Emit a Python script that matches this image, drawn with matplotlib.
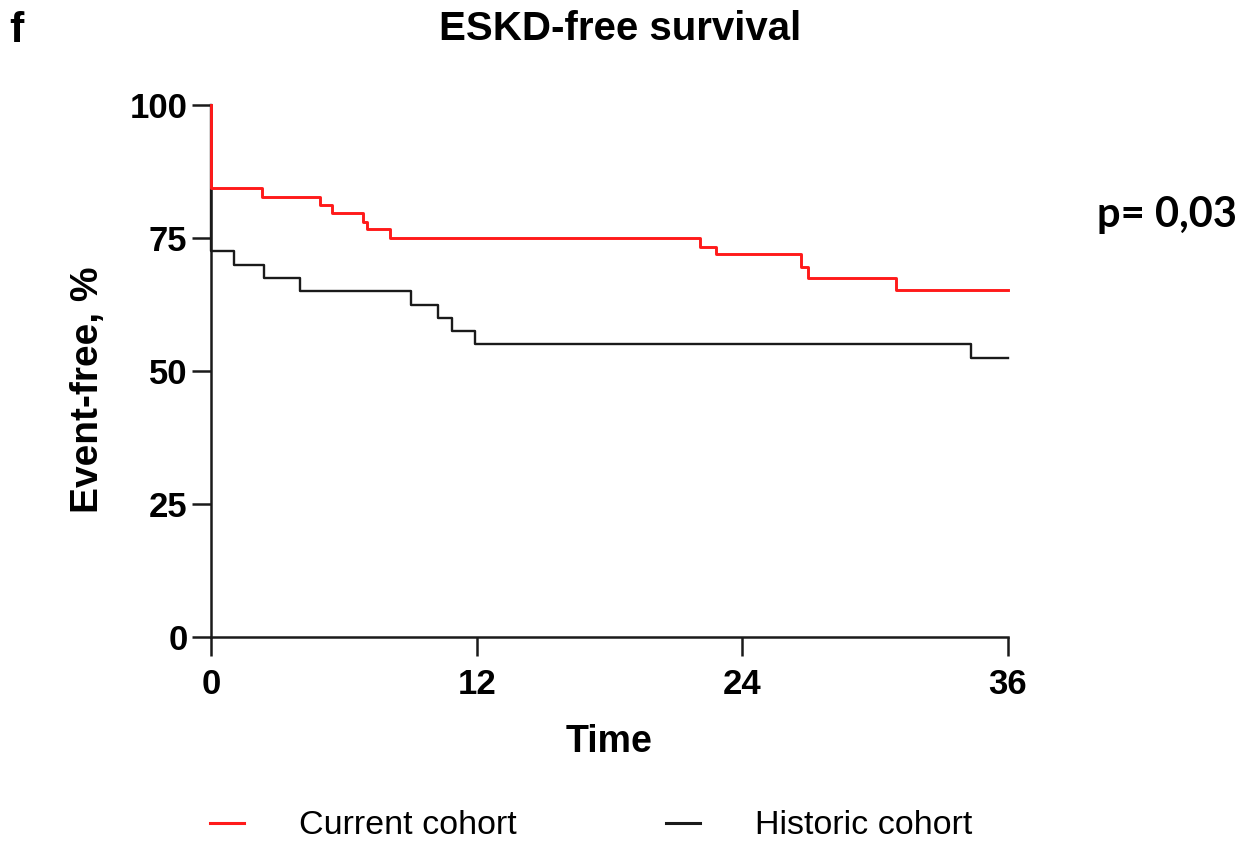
import matplotlib.pyplot as plt
from matplotlib.lines import Line2D

plt.rcParams['font.family'] = ['Liberation Sans', 'DejaVu Sans']

# Kaplan-Meier steps (months, % event-free)
current_t = [0, 0, 2.29, 4.94, 5.46, 6.85, 7.03, 8.10, 22.11, 22.81, 26.66, 26.95, 30.94, 36]
current_s = [100, 84.4, 82.8, 81.2, 79.7, 78.1, 76.6, 75.0, 73.4, 71.9, 69.6, 67.5, 65.3, 65.3]

historic_t = [0, 0, 1.05, 2.38, 4.02, 9.03, 10.24, 10.87, 11.91, 34.33, 36]
historic_s = [100, 72.5, 70.0, 67.5, 65.0, 62.5, 60.0, 57.5, 55.0, 52.5, 52.5]

xticks = [0, 12, 24, 36]
yticks = [0, 25, 50, 75, 100]

W, H = 1246, 841
fig = plt.figure(figsize=(W / 100, H / 100), dpi=100)
ax = fig.add_axes([211 / W, 1 - 637 / H, (1008 - 211) / W, (637 - 105) / H])

ax.step(historic_t, historic_s, where='post', color='#1a1a1a', lw=1.7, clip_on=False, zorder=3)
ax.step(current_t, current_s, where='post', color='#ff1a1a', lw=2.1, clip_on=False, zorder=4)

ax.set_xlim(0, 36)
ax.set_ylim(0, 100)
ax.set_xticks(xticks)
ax.set_yticks(yticks)
for s in ['top', 'right']:
    ax.spines[s].set_visible(False)
for s in ['left', 'bottom']:
    ax.spines[s].set_linewidth(1.8)
    ax.spines[s].set_color('#1a1a1a')
ax.tick_params(axis='both', length=14, width=1.8, color='#1a1a1a', labelsize=25)
ax.tick_params(axis='y', pad=3)
ax.tick_params(axis='x', pad=8)
for lab in ax.get_xticklabels() + ax.get_yticklabels():
    lab.set_fontweight('bold')

ax.set_xlabel('Time', fontsize=27, fontweight='bold', labelpad=17)
ax.set_ylabel('Event-free, %', fontsize=28, fontweight='bold', labelpad=17, y=0.465)

fig.text(620 / W, 1 - 29 / H, 'ESKD-free survival', ha='center', va='center',
         fontsize=29, fontweight='bold')
fig.text(9 / W, 1 - 31 / H, 'f', ha='left', va='center', fontsize=31, fontweight='bold')
fig.text(1097 / W, 1 - 215 / H, 'p= 0,03', ha='left', va='center',
         fontsize=30, fontweight='bold', family='Lato')

handles = [Line2D([], [], color='#ff1a1a', lw=2.2), Line2D([], [], color='#1a1a1a', lw=2.2)]
fig.legend(handles, ['Current cohort', 'Historic cohort'], loc='center',
           bbox_to_anchor=(591 / W, 1 - 826 / H), ncol=2, frameon=False, fontsize=24.5,
           handlelength=1.0, handletextpad=1.6, columnspacing=4.4, borderpad=0)

fig.savefig('out.png', dpi=100)
